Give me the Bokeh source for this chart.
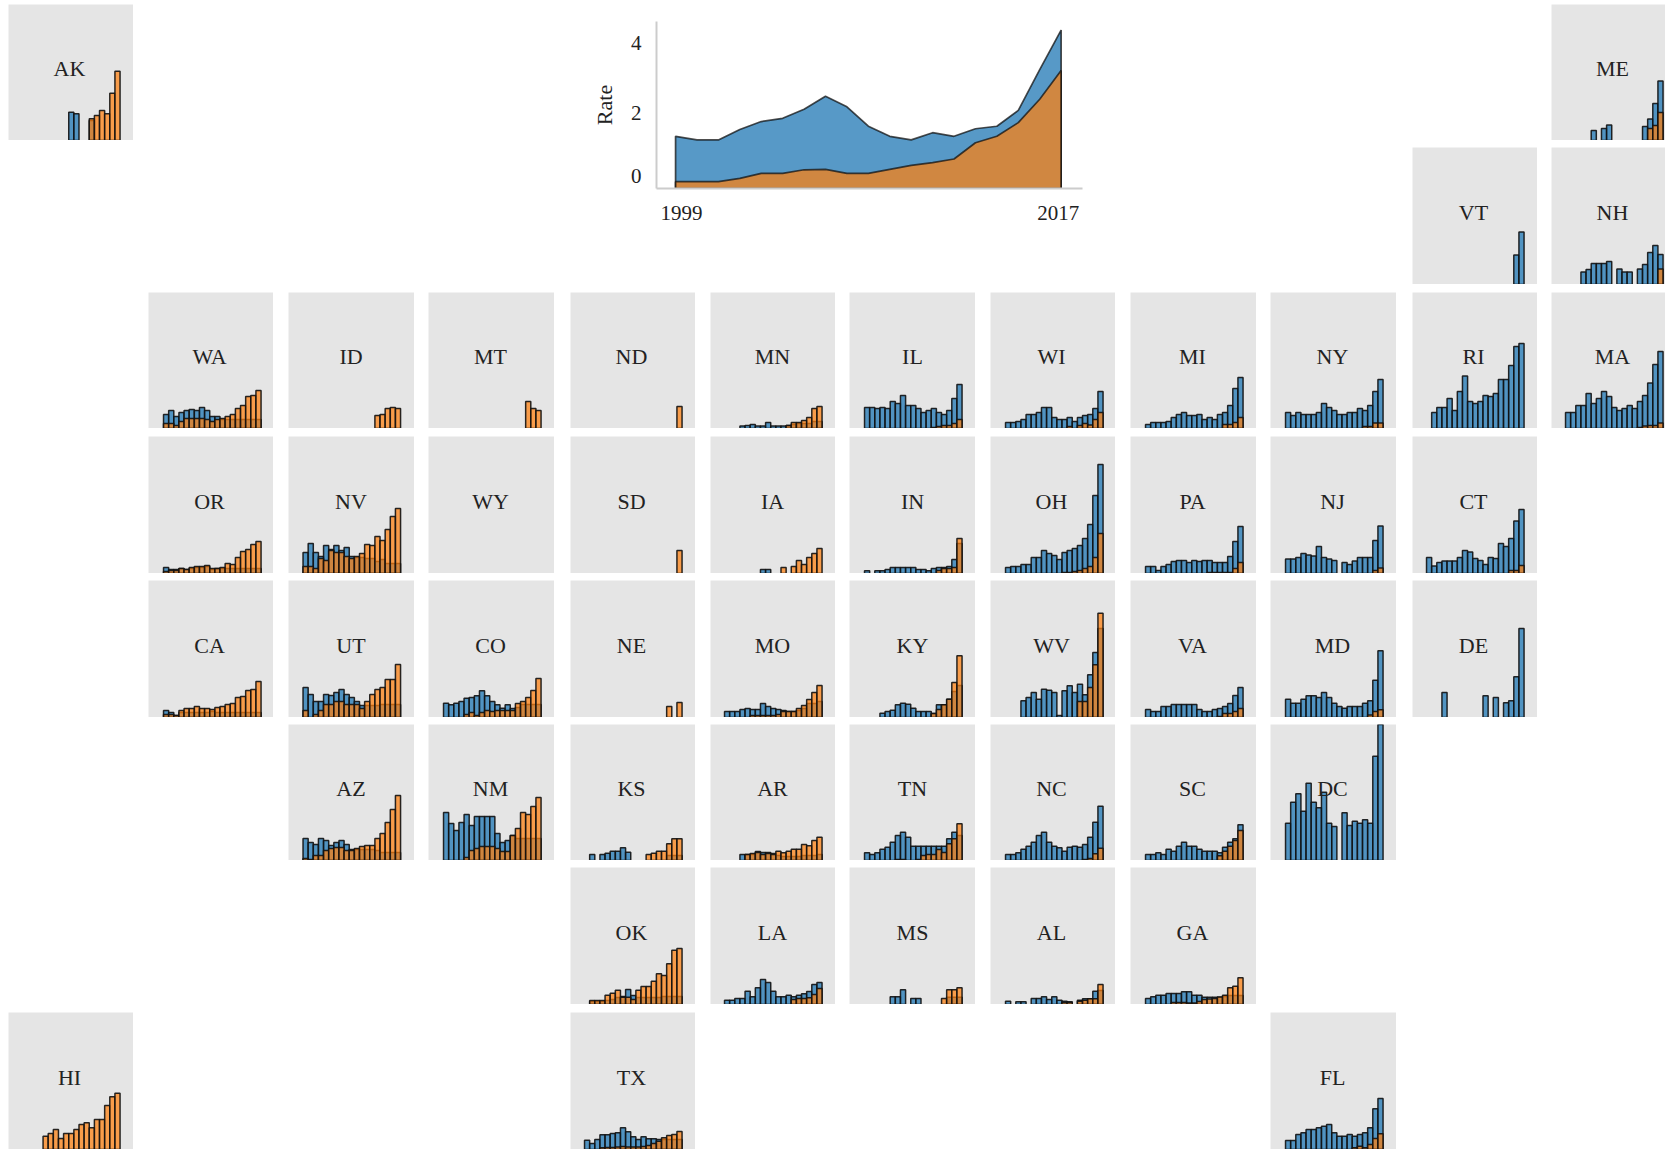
from bokeh.embed import file_html
from bokeh.resources import INLINE
from bokeh.plotting import figure
from bokeh.models import Range1d, FixedTicker, ColumnDataSource
from bokeh.layouts import column
from bokeh.core.properties import value

YEARS = list(range(1999, 2018))
NONE = [0] * 19

nat_blue = [1.45,1.35,1.35,1.64,1.86,1.95,2.2,2.56,2.27,1.73,1.45,1.35,1.55,1.45,1.66,1.73,2.17,3.3,4.4]
nat_orange = [.19,.19,.19,.28,.42,.42,.52,.53,.42,.42,.53,.64,.72,.82,1.27,1.45,1.83,2.48,3.28]

AK_b = [0]*9+[2.83,2.67,0,0,2.0,0,0,0,0,0]
AK_o = [0]*13+[2.17,2.5,3.0,2.67,4.73,6.93]
ME_b = [0,0,0,0,0,1.0,0,1.2,1.55,0,0,0,0,0,0,1.4,2.15,3.7,5.95]
ME_o = [0]*16+[1.2,1.5,2.8]
VT_b = [0]*17+[2.96,5.25]
VT_o = NONE
NH_b = [0,0,0,1.25,1.5,2.1,2.1,2.1,2.3,0,1.55,1.25,1.25,0,1.55,2.0,3.2,3.9,3.0]
NH_o = [0]*18+[1.55]
WA_b = [1.4,1.8,1.2,1.6,1.8,1.9,1.8,2.1,1.8,1.2,1.2,.9,.9,.9,.9,.9,.9,.9,.9]
WA_o = [.5,.5,.3,.7,1.0,1.0,1.0,1.0,.9,.7,.9,1.0,1.2,1.4,2.0,2.3,3.2,3.3,3.8]
ID_b = NONE
ID_o = [0]*14+[1.3,1.4,2.0,2.1,2.0]
MT_b = NONE
MT_o = [0]*16+[2.7,2.0,1.8]
ND_b = NONE
ND_o = [0]*18+[2.2]
MN_b = [0,0,0,.25,.3,.4,.25,.25,.6,.25,.25,.25,.3,.4,.5,.5,.5,.7,.7]
MN_o = [0]*12+[.3,.6,.6,.8,1.1,2.0,2.2]
IL_b = [2.1,2.1,2.0,2.1,2.0,2.7,2.5,3.3,2.3,2.3,2.0,1.6,1.8,2.0,1.6,1.4,1.8,3.0,4.4]
IL_o = [0]*13+[.1,.2,.3,.3,.5,.9]
WI_b = [.6,.6,.7,.9,1.4,1.4,1.6,2.1,2.1,1.1,.9,.9,1.1,.7,1.1,1.3,1.4,2.0,3.7]
WI_o = [0]*12+[.2,0,.3,.5,.35,.9,1.6]
MI_b = [.4,.6,.6,.6,.7,1.1,1.4,1.6,1.3,1.3,1.4,.9,1.1,.9,1.4,1.6,2.3,4.0,5.1]
MI_o = [0]*15+[.4,.4,.6,1.1]
NY_b = [1.6,1.3,1.6,1.4,1.4,1.4,1.6,2.5,2.1,1.8,1.4,1.4,1.6,1.6,2.0,1.8,2.3,3.7,4.9]
NY_o = [0]*15+[.2,.2,.55,.55]
RI_b = [0,1.6,2.1,2.1,3.0,1.8,3.7,5.25,2.7,2.5,2.7,3.3,3.2,3.5,4.9,4.9,6.3,8.2,8.5]
RI_o = NONE
MA_b = [1.6,1.6,2.3,2.3,3.5,2.5,3.0,3.7,3.2,2.1,1.8,2.0,2.3,2.0,2.7,3.3,4.55,6.4,7.7]
MA_o = [0]*14+[.1,.25,.3,.3,.55]
OR_b = [.6,.4,.4,.5,.4,.5,.6,.6,.7,.4,.5,.5,.5,.5,.5,.5,.5,.5,.5]
OR_o = [.2,.3,.3,.5,.4,.6,.7,.7,.8,.5,.5,.6,1.0,.9,1.6,2.2,2.4,2.9,3.2]
NV_b = [2.1,3.0,2.1,1.7,2.8,2.4,2.8,2.3,2.6,1.7,1.6,1.6,1.5,1.5,1.2,1.4,1.0,1.0,1.0]
NV_o = [.7,.7,.5,1.5,1.3,2.3,2.1,2.1,1.7,1.5,1.7,2.0,2.9,2.8,3.7,3.3,4.4,5.7,6.5]
WY_b = NONE
WY_o = NONE
SD_b = NONE
SD_o = [0]*18+[2.3]
IA_b = [0]*7+[.4,.4]+[0]*10
IA_o = [0]*11+[.6,0,.7,1.3,.9,1.6,2.0,2.5]
IN_b = [.27,0,.27,.27,.4,.6,.6,.6,.6,.6,.4,.4,.27,.5,.6,.6,.7,1.4,3.0]
IN_o = [0]*14+[.3,.5,.5,.6,3.5]
OH_b = [.6,.7,.7,.9,.9,1.6,1.6,2.3,2.0,1.8,1.4,2.1,2.3,2.5,2.8,3.5,4.9,7.8,10.9]
OH_o = [0]*11+[.1,.1,.2,.3,.5,.7,1.6,4.0]
PA_b = [.7,.7,.3,.7,.9,1.2,1.3,1.3,1.1,1.3,1.2,1.3,1.3,1.1,1.1,1.1,1.7,3.2,4.7]
PA_o = [0]*12+[.1,.1,.1,.1,.1,.5,1.1]
NJ_b = [1.45,1.45,1.6,2.0,1.85,1.75,2.7,1.6,1.45,1.3,0,1.1,.9,1.25,1.6,1.6,1.6,3.3,4.75]
NJ_o = [0]*17+[.3,.55]
CT_b = [1.6,.75,1.1,1.25,1.25,1.25,1.6,2.3,2.15,1.5,1.3,.9,1.6,1.5,3.0,2.7,3.5,5.25,6.4]
CT_o = [0]*16+[.3,.3,.8]
CA_b = [.7,.5,.2,.5,.5,.5,.5,.5,.5,.6,.5,.5,.5,.5,.5,.5,.5,.5,.5]
CA_o = [.3,.3,.2,.7,.9,.9,1.1,.9,.9,.8,1.0,1.1,1.3,1.4,2.0,2.1,2.7,2.8,3.6]
UT_b = [3.0,2.3,1.6,1.6,2.3,2.2,2.5,2.8,2.3,2.0,1.6,1.2,1.2,1.2,1.2,1.3,1.3,1.3,1.3]
UT_o = [.7,0,.3,.7,1.3,1.3,1.6,1.6,1.3,1.3,1.3,.9,1.6,2.3,2.8,3.0,3.8,3.8,5.3]
CO_b = [1.43,1.27,1.43,1.6,1.93,2.0,2.17,2.67,2.17,1.6,1.27,.93,1.27,.9,1.0,1.3,1.3,1.3,1.3]
CO_o = [0,0,0,0,.3,.5,.2,.5,.7,.6,.7,.7,.7,.7,1.4,1.6,2.0,2.7,3.9]
NE_b = NONE
NE_o = [0]*16+[1.1,0,1.5]
MO_b = [.6,.6,.6,.8,.9,.8,.8,1.4,1.1,.9,.8,.7,.6,.6,.7,.9,1.4,1.4,1.6]
MO_o = [0,0,0,0,0,.2,.2,.2,.2,.2,.3,.6,.6,.6,.9,1.2,1.8,2.5,3.2]
KY_b = [0,0,0,.43,.6,.73,1.27,1.43,1.33,.93,.6,.6,.6,.4,1.27,1.27,1.83,2.6,3.2]
KY_o = [0]*13+[.4,.8,1.27,1.83,3.5,6.17]
WV_b = [0,0,0,1.67,2.0,2.5,1.83,2.83,2.73,2.5,.2,2.67,3.17,2.5,3.33,2.27,4.27,6.5,8.9]
WV_o = [0]*14+[1.6,1.6,3.0,5.27,10.43]
VA_b = [.8,.6,.6,1.1,1.1,1.3,1.3,1.3,1.3,1.3,.8,.6,.6,.8,.9,1.1,1.4,2.2,3.0]
VA_o = [0]*14+[.1,.4,.4,.6,.9]
MD_b = [1.83,1.43,1.43,1.83,2.17,2.17,2.0,2.5,2.0,1.43,1.1,.93,1.1,1.1,1.1,1.43,1.67,3.73,6.67]
MD_o = [0]*16+[.25,.6,.77]
DE_b = [0,0,0,2.5,0,0,0,0,0,0,0,2.17,0,2.0,0,1.47,1.67,4.07,8.9]
DE_o = NONE
AZ_b = [2.2,1.8,1.6,2.2,2.0,1.5,1.8,2.0,1.6,1.1,1.1,1.1,1.1,1.1,1.0,.8,.8,.8,.8]
AZ_o = [.2,.1,.5,.5,1.0,1.2,1.3,1.3,1.0,1.0,1.2,1.4,1.5,1.5,2.2,2.7,3.8,5.1,6.5]
NM_b = [4.8,3.7,3.0,3.8,4.6,3.5,4.4,4.4,4.4,4.4,2.7,1.8,2.0,2.5,2.2,2.2,2.2,2.2,2.2]
NM_o = [0,0,0,0,.3,1.0,1.2,1.4,1.4,1.4,1.2,.9,.9,2.5,3.2,4.8,4.6,5.4,6.3]
KS_b = [0,.6,0,.6,.73,.93,.93,1.27,.83,0,0,0,0,0,0,0,.5,.5,.5]
KS_o = [0]*12+[.6,.73,.93,.93,1.67,2.17,2.17]
AR_b = [0,0,0,.6,.6,.6,.9,.8,.8,.7,.5,.4,.4,.4,.4,.5,.5,.5,.6]
AR_o = [0,0,0,0,.6,.7,.8,.6,.7,.6,.93,.77,.93,1.13,1.13,1.6,1.47,2.0,2.33]
TN_b = [.77,.6,.77,1.13,1.33,1.83,2.5,2.83,2.33,1.43,1.43,1.43,1.43,1.43,1.43,1.43,2.17,2.83,2.5]
TN_o = [0,0,0,0,0,0,.1,.1,0,0,.1,.5,.6,.6,1.1,.8,1.67,2.17,3.67]
NC_b = [.6,.6,.77,1.13,1.43,1.83,2.5,2.83,1.83,1.43,1.27,.93,1.33,1.43,1.33,1.6,2.33,3.83,5.43]
NC_o = [0]*15+[.1,.2,.67,1.23]
SC_b = [.6,.6,.77,.6,1.13,.93,1.43,1.83,1.43,1.43,1.13,.93,.93,.93,.77,1.33,1.83,2.17,3.57]
SC_o = [0]*14+[.47,.93,1.43,2.0,3.0]
DC_b = [3.73,5.83,6.67,4.93,7.73,5.83,5.27,6.83,3.73,3.4,0,4.77,3.5,3.93,3.73,4.07,3.73,10.43,13.6]
DC_o = NONE
OK_b = [0,.3,.3,.3,.4,.5,.7,.8,1.5,.9,.7,.7,.7,.7,.7,.8,.8,.8,.8]
OK_o = [0,.4,.4,.4,.93,1.13,1.43,.73,.73,.5,1.43,1.8,1.8,2.33,3.07,2.9,4.07,5.43,5.6]
LA_b = [.43,.43,.6,.6,1.33,.77,1.67,2.5,2.2,1.33,.77,.77,.93,.77,.93,1.07,1.3,2.0,2.2]
LA_o = [0]*13+[.5,.6,.6,.67,1.0,1.6]
MS_b = [0,0,0,0,0,.77,.77,1.47,0,.6,.6,0,0,0,0,0,.73,.73,.73]
MS_o = [0]*15+[.6,1.47,1.47,1.67]
AL_b = [.33,0,.27,.27,0,.6,.6,.77,.5,.77,.43,.33,.27,0,.43,.57,.57,1.33,1.4]
AL_o = [0]*11+[.2,.2,0,.33,.43,.57,.57,2.0]
GA_b = [.6,.77,.93,.93,1.1,1.1,1.1,1.27,1.27,.93,.93,.73,.73,.73,.73,.8,.9,.9,.9]
GA_o = [0,0,0,0,0,.2,.2,.2,.15,.15,.3,.5,.55,.6,.75,.93,1.67,1.83,2.67]
HI_b = NONE
HI_o = [0]*4+[1.33,1.6,2.0,1.1,1.6,1.6,2.0,2.5,2.67,2.17,3.0,3.0,4.4,5.27,5.63]
TX_b = [.93,.6,1.0,1.47,1.47,1.6,1.67,2.17,1.77,1.27,1.0,1.27,1.07,1.07,1.0,1.0,1.0,1.0,1.0]
TX_o = [0,0,0,.17,.2,.2,.25,.3,.25,.25,.25,.3,.4,.6,.83,1.17,1.4,1.5,1.8]
FL_b = [.9,.9,1.5,1.67,2.0,2.0,2.17,2.33,2.5,1.67,1.33,1.33,1.5,1.33,1.5,1.67,2.17,4.07,5.1]
FL_o = [0]*13+[.17,.33,.17,.5,1.1,1.57]

TILES = [
    ("AK",0,0,AK_b,AK_o),("ME",11,0,ME_b,ME_o),("VT",10,1,VT_b,VT_o),("NH",11,1,NH_b,NH_o),
    ("WA",1,2,WA_b,WA_o),("ID",2,2,ID_b,ID_o),("MT",3,2,MT_b,MT_o),("ND",4,2,ND_b,ND_o),
    ("MN",5,2,MN_b,MN_o),("IL",6,2,IL_b,IL_o),("WI",7,2,WI_b,WI_o),("MI",8,2,MI_b,MI_o),
    ("NY",9,2,NY_b,NY_o),("RI",10,2,RI_b,RI_o),("MA",11,2,MA_b,MA_o),
    ("OR",1,3,OR_b,OR_o),("NV",2,3,NV_b,NV_o),("WY",3,3,WY_b,WY_o),("SD",4,3,SD_b,SD_o),
    ("IA",5,3,IA_b,IA_o),("IN",6,3,IN_b,IN_o),("OH",7,3,OH_b,OH_o),("PA",8,3,PA_b,PA_o),
    ("NJ",9,3,NJ_b,NJ_o),("CT",10,3,CT_b,CT_o),
    ("CA",1,4,CA_b,CA_o),("UT",2,4,UT_b,UT_o),("CO",3,4,CO_b,CO_o),("NE",4,4,NE_b,NE_o),
    ("MO",5,4,MO_b,MO_o),("KY",6,4,KY_b,KY_o),("WV",7,4,WV_b,WV_o),("VA",8,4,VA_b,VA_o),
    ("MD",9,4,MD_b,MD_o),("DE",10,4,DE_b,DE_o),
    ("AZ",2,5,AZ_b,AZ_o),("NM",3,5,NM_b,NM_o),("KS",4,5,KS_b,KS_o),("AR",5,5,AR_b,AR_o),
    ("TN",6,5,TN_b,TN_o),("NC",7,5,NC_b,NC_o),("SC",8,5,SC_b,SC_o),("DC",9,5,DC_b,DC_o),
    ("OK",4,6,OK_b,OK_o),("LA",5,6,LA_b,LA_o),("MS",6,6,MS_b,MS_o),("AL",7,6,AL_b,AL_o),("GA",8,6,GA_b,GA_o),
    ("HI",0,7,HI_b,HI_o),("TX",4,7,TX_b,TX_o),("FL",9,7,FL_b,FL_o),
]

COL_LEFT =   [8,148,288,428,570,710,849,990,1130,1270,1412,1551]
COL_W =      [125,125,126,126,125,125,126,125,126,126,125,125]
COL_ORIGIN = [8,149,288.5,429,570,710,850,991,1131,1271,1412,1551]
COL_LABEL =  [61,60,62,61,61,62,62,60,61,61,61,61]
ROW_TOP = [4,147,292,436,580,724,867,1012]
ROW_H =   [136,137,136,137,137,136,137,137]
PAGE_W, PAGE_H = 1665, 1149
PX_PER_YEAR, PX_PER_RATE = 5.133, 10.0
FIRST_BAR_PX = 16.6
LABEL_ABOVE_BASE = 72

BLUE, ORANGE = "#1f77b4", "#ff7f0e"
ALPHA_BLUE, ALPHA_ORANGE = 0.75, 0.72
SERIF = "Liberation Serif"

def at(left, top):
    return {"position": "absolute", "left": f"{left}px", "top": f"{top}px"}

def bars(p, xs, ys, color, alpha):
    keep = [(x, y) for x, y in zip(xs, ys) if y > 0]
    if not keep:
        return
    src = ColumnDataSource(dict(x=[k[0] for k in keep], top=[k[1] for k in keep]))
    p.vbar(x="x", top="top", bottom=-0.5, width=1.0, source=src, fill_color=color,
           fill_alpha=alpha, line_color="#111111", line_width=1.5, line_alpha=0.9)

def tile(name, col, row, blue, orange):
    assert len(blue) == 19 and len(orange) == 19, name
    left, top = COL_LEFT[col], ROW_TOP[row]
    w = min(COL_W[col], PAGE_W - left)
    h = min(ROW_H[row], PAGE_H - top)
    inset = COL_ORIGIN[col] - left
    x0 = 1999 - (FIRST_BAR_PX + inset) / PX_PER_YEAR
    p = figure(width=w, height=h, output_backend="svg", toolbar_location=None,
               x_range=Range1d(x0, x0 + w / PX_PER_YEAR),
               y_range=Range1d(0, h / PX_PER_RATE),
               min_border=0, outline_line_color=None, frame_align=False,
               background_fill_color="#e5e5e5", border_fill_color=None,
               styles=at(left, top))
    p.axis.visible = False
    p.grid.visible = False
    bars(p, YEARS, blue, BLUE, ALPHA_BLUE)
    bars(p, YEARS, orange, ORANGE, ALPHA_ORANGE)
    p.text(x=[x0 + (COL_LABEL[col] + inset) / PX_PER_YEAR], y=[LABEL_ABOVE_BASE / PX_PER_RATE], text=[name],
           text_align="center", text_baseline="middle", text_color="#222222",
           text_font=value(SERIF), text_font_size="22px")
    return p

def hero():
    frame_w, frame_h = 426, 167
    left, top = 588, 4
    p = figure(width=frame_w + 63 + 6, height=frame_h + 17 + 38,
               frame_width=frame_w, frame_height=frame_h,
               output_backend="svg", toolbar_location=None,
               x_range=Range1d(1998.11, 1998.11 + frame_w / 21.42),
               y_range=Range1d(0, frame_h / 36.0),
               min_border_left=63, min_border_right=6, min_border_top=17, min_border_bottom=38,
               outline_line_color=None, background_fill_color=None, border_fill_color=None,
               frame_align=False, styles=at(left, top))
    p.grid.visible = False
    for vals, color, alpha in ((nat_blue, BLUE, ALPHA_BLUE), (nat_orange, ORANGE, ALPHA_ORANGE)):
        p.patch(YEARS + YEARS[::-1], vals + [0] * 19, fill_color=color, fill_alpha=alpha,
                line_color="#111111", line_width=1.7, line_alpha=0.75)
    for ax in (p.xaxis[0], p.yaxis[0]):
        ax.axis_line_color = "#cccccc"
        ax.axis_line_width = 2
        ax.major_tick_line_color = None
        ax.minor_tick_line_color = None
        ax.major_label_text_font = SERIF
        ax.major_label_text_font_size = "21px"
        ax.major_label_text_color = "#222222"
    p.xaxis[0].ticker = FixedTicker(ticks=[1999.28, 2016.86])
    p.xaxis[0].major_label_overrides = {1999.28: "1999", 2016.86: "2017"}
    p.xaxis[0].major_label_standoff = 11
    p.yaxis[0].ticker = FixedTicker(ticks=[0.35, 2.09, 4.05])
    p.yaxis[0].major_label_overrides = {0.35: "0", 2.09: "2", 4.05: "4"}
    p.yaxis[0].major_label_standoff = 9
    p.yaxis[0].axis_label = "Rate"
    p.yaxis[0].axis_label_text_font = SERIF
    p.yaxis[0].axis_label_text_font_style = "normal"
    p.yaxis[0].axis_label_text_font_size = "22px"
    p.yaxis[0].axis_label_text_color = "#222222"
    p.yaxis[0].axis_label_standoff = 11
    return p

children = [hero()] + [tile(*t) for t in TILES]
root = column(children=children, width=PAGE_W, height=PAGE_H,
              styles={"position": "absolute", "left": "0px", "top": "0px"})
open("out.html", "w").write(file_html(root, INLINE))
